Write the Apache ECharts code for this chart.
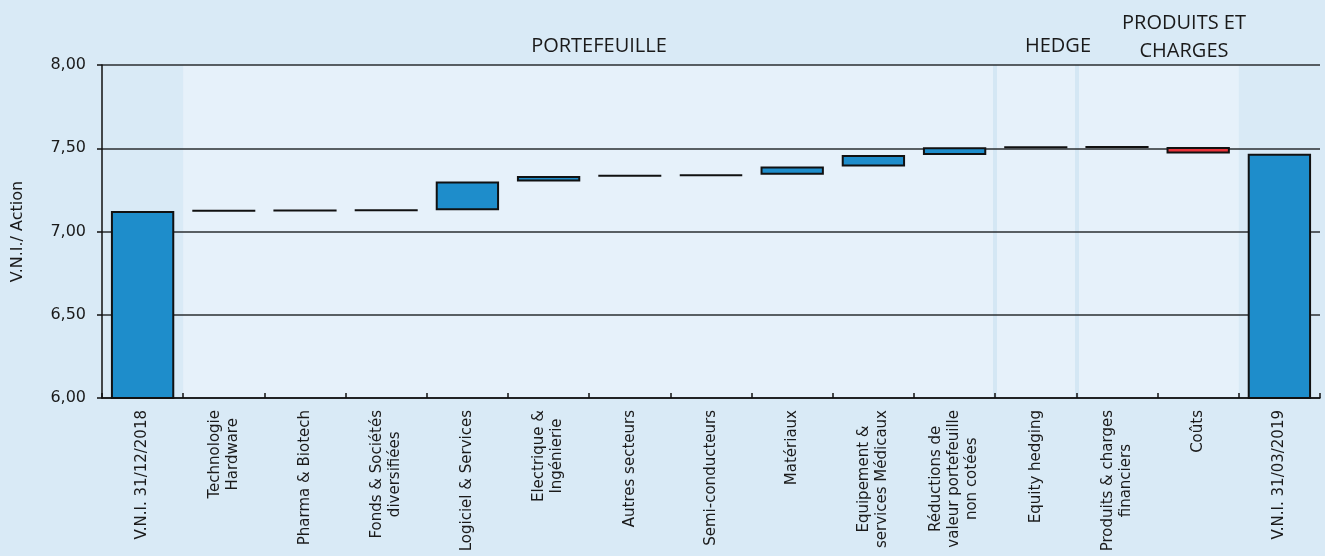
<!DOCTYPE html>
<html>
<head>
<meta charset="utf-8">
<script src="https://cdn.jsdelivr.net/npm/echarts@6/dist/echarts.min.js"></script>
<style>
html,body{margin:0;padding:0;background:#d9eaf6;}
#chart{width:1325px;height:556px;}
</style>
</head>
<body>
<div id="chart"></div>
<script>
// ---- DATA ----
const categories = [
  'V.N.I. 31/12/2018',
  'Technologie\nHardware',
  'Pharma & Biotech',
  'Fonds & Sociétés\ndiversifiées',
  'Logiciel & Services',
  'Electrique &\nIngénierie',
  'Autres secteurs',
  'Semi-conducteurs',
  'Matériaux',
  'Equipement &\nservices Médicaux',
  'Réductions de\nvaleur portefeuille\nnon cotées',
  'Equity hedging',
  'Produits & charges\nfinanciers',
  'Coûts',
  'V.N.I. 31/03/2019'
];
// first and last are totals; others are changes
const startValue = 7.123;
const changes = [0.002, 0.001, 0.002, 0.172, 0.034, 0.002, 0.005, 0.050, 0.069, 0.046, 0.001, 0.001, -0.040];
const endValue = 7.467;
const yTicks = [6.0, 6.5, 7.0, 7.5, 8.0];
const groupLabels = ['PORTEFEUILLE', 'HEDGE', 'PRODUITS ET\nCHARGES'];

// ---- BUILD WATERFALL ----
const baseData = [0];
const barData = [{value: startValue, itemStyle: {color: '#1e8dcb'}}];
let level = startValue;
changes.forEach(function (d) {
  const next = level + d;
  baseData.push(Math.min(level, next));
  barData.push({value: Math.abs(d), itemStyle: {color: d < 0 ? '#e8333a' : '#1e8dcb'}});
  level = next;
});
baseData.push(0);
barData.push({value: endValue, itemStyle: {color: '#1e8dcb'}});

const chart = echarts.init(document.getElementById('chart'), null, {renderer: 'canvas'});
const labelFont = 'DejaVu Sans, sans-serif';
const titleFont = '20px "Open Sans", sans-serif';
const n = categories.length;

const option = {
  backgroundColor: '#d9eaf6',
  animation: false,
  grid: {left: 102, right: 5, top: 65, bottom: 158, containLabel: false, outerBoundsMode: 'none'},
  xAxis: [{
    type: 'category',
    data: categories,
    axisLine: {show: true, lineStyle: {color: '#111', width: 1.5}},
    axisTick: {show: true, inside: true, length: 5, lineStyle: {color: '#111', width: 1.5}},
    axisLabel: {
      rotate: 90,
      margin: 12,
      interval: 0,
      formatter: function (v) {
        return v.split('\n').map(function (s) { return '{c|' + s + '}'; }).join('\n');
      },
      rich: {
        c: {align: 'center', fontFamily: labelFont, fontSize: 15, color: '#1a1a1a', lineHeight: 18}
      }
    },
    splitLine: {show: false}
  }, {
    type: 'value',
    min: 0,
    max: n,
    show: false
  }],
  yAxis: {
    type: 'value',
    min: yTicks[0],
    max: yTicks[yTicks.length - 1],
    interval: yTicks[1] - yTicks[0],
    name: 'V.N.I./ Action',
    nameLocation: 'middle',
    nameGap: 76,
    nameTextStyle: {fontFamily: labelFont, fontSize: 16, color: '#1a1a1a'},
    axisLine: {show: true, lineStyle: {color: '#111', width: 1.5}},
    axisTick: {show: true, length: 5, lineStyle: {color: '#111', width: 1.5}},
    axisLabel: {
      margin: 16,
      fontFamily: labelFont,
      fontSize: 16,
      color: '#1a1a1a',
      formatter: function (v) { return v.toFixed(2).replace('.', ','); }
    },
    splitLine: {show: true, lineStyle: {color: '#2a2e31', width: 1.5}}
  },
  series: [{
    type: 'line',
    xAxisIndex: 1,
    data: [[0, 6]],
    symbol: 'none',
    silent: true,
    z: -5,
    lineStyle: {opacity: 0},
    markArea: {
      silent: true,
      z: -5,
      itemStyle: {color: '#e6f1fa'},
      data: [[{xAxis: 1}, {xAxis: n - 1}]]
    },
    markLine: {
      silent: true,
      z: -4,
      symbol: 'none',
      label: {show: false},
      lineStyle: {color: '#d4e7f4', width: 4, type: 'solid'},
      data: [{xAxis: 11}, {xAxis: 12}]
    }
  }, {
    name: 'base',
    type: 'bar',
    stack: 'w',
    data: baseData,
    barWidth: '78%',
    itemStyle: {color: 'transparent', borderWidth: 0},
    silent: true
  }, {
    name: 'delta',
    type: 'bar',
    stack: 'w',
    data: barData,
    barWidth: '78%',
    clip: true,
    itemStyle: {borderColor: '#111', borderWidth: 2}
  }],
  graphic: [
    {type: 'text', x: 599, y: 46, style: {text: groupLabels[0], font: titleFont, fill: '#1a1a1a', align: 'center', verticalAlign: 'middle'}},
    {type: 'text', x: 1058, y: 46, style: {text: groupLabels[1], font: titleFont, fill: '#1a1a1a', align: 'center', verticalAlign: 'middle'}},
    {type: 'text', x: 1184, y: 37, style: {text: groupLabels[2], font: titleFont, fill: '#1a1a1a', align: 'center', verticalAlign: 'middle', lineHeight: 28}}
  ]
};
chart.setOption(option);
</script>
</body>
</html>
